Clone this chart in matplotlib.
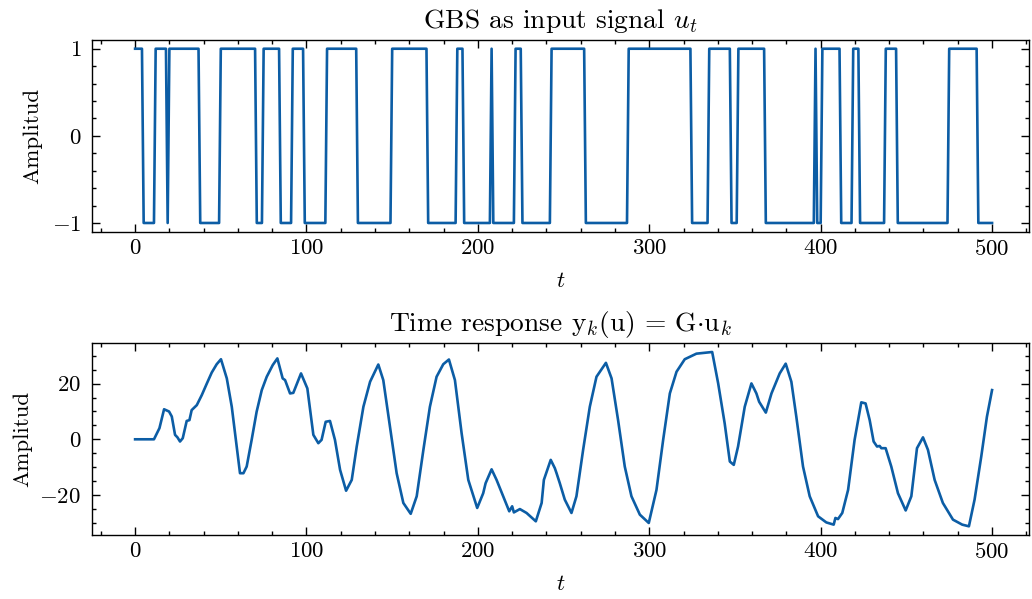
import numpy as np
import matplotlib
matplotlib.use("Agg")
import matplotlib.pyplot as plt
from matplotlib.ticker import AutoMinorLocator

plt.rcParams['font.family'] = 'cmr10'
plt.rcParams['mathtext.fontset'] = 'cm'
plt.rcParams['axes.formatter.use_mathtext'] = True
plt.rcParams['font.size'] = 16.5

# GBS input: starts at +1, sign flips at each switching instant
n_samples = 501
u_start = 1
switch_t = [5, 12, 19, 20, 38, 50, 71, 75, 85, 92, 99, 112, 130, 150, 171,
            188, 192, 208, 209, 222, 226, 243, 263, 288, 325, 335, 348, 352,
            368, 397, 398, 401, 412, 419, 423, 438, 445, 475, 492]

# system response y_k
t_resp = [0, 11, 14.2, 16.9, 19.8, 21.4, 23.3, 24.7, 26.2, 27.8, 30.1, 31.7, 33,
          36, 38.9, 41.8, 44.7, 47.6, 50.1, 53.5, 56.4, 59.3, 61.2, 63.2, 65.1,
          68, 70.9, 73.9, 76.8, 80.3, 83, 86.1, 87.5, 90.4, 92.3, 96.8, 100.5,
          104, 106.9, 108.8, 111.2, 113.7, 116.6, 119.6, 123.1, 126.4, 129.3,
          133.2, 137.1, 141.9, 144.8, 148.7, 152.6, 156.5, 160.8, 164.3, 168.2,
          172, 175.9, 179.8, 183.1, 186.6, 190.5, 194.4, 199.6, 203.1, 204.5,
          208, 210.9, 214.8, 218.3, 220, 221, 224.5, 228.4, 233.8, 237.2, 238.5,
          242.5, 244.9, 245.9, 247.8, 250.7, 254.6, 257.5, 261.4, 265.3, 269.2,
          274.7, 278, 281.8, 285.7, 289.6, 294.5, 299.7, 304.2, 308.1, 312,
          315.9, 320.7, 327.5, 336.7, 340.2, 344, 347, 349.3, 351.8, 355.7,
          359.6, 362.5, 364.1, 368, 371.3, 376.1, 379.6, 382.9, 385.8, 389.7,
          393.6, 398.5, 403.3, 407.6, 408.6, 410.1, 412.6, 416, 419.8, 423.7,
          426.2, 428.6, 430.9, 432.9, 434.4, 435.4, 437.9, 441.2, 445.1, 449.6,
          452.9, 456.2, 459.7, 462.6, 466.5, 471.3, 477.2, 482.6, 486.5, 489.8,
          493.7, 497, 500]
y_resp = [0, 0, 4, 10.8, 10, 8.2, 1.6, 0.7, -0.8, 0.4, 6.6, 6.9, 10.5,
          12.3, 15.9, 20, 24, 27, 28.8, 21.9, 11.7, -2.6, -12.2, -12.2, -9.8,
          -0.2, 9.9, 17.7, 22.5, 26.7, 29.1, 21.9, 21.3, 16.5, 16.7, 23.7, 18.3,
          1.6, -1.4, -0.2, 6.3, 6.6, -0.2, -11, -18.5, -14.6, -2.6,
          11.7, 20.7, 26.9, 21.3, 4.5, -12.2, -22.9, -26.8, -20.5, -3.8,
          11.7, 22.5, 27, 28.7, 21.3, 2.2, -14.6, -24.7, -19.4, -15.8,
          -10.8, -14.6, -20.5, -25.9, -24.1, -26.3, -25.1, -26.5, -29.5, -22.9, -14.6,
          -7.4, -10.4, -12.2, -15.8, -21.7, -26.5, -20.5, -3.8, 11.7, 22.5,
          27.5, 21.9, 6.9, -9.8, -20.5, -27.1, -30.1, -18.2, -0.2, 16.5,
          24.3, 28.8, 30.8, 31.4, 20.1, 5.7, -8, -9.2, -2.6, 11.7,
          20.1, 16.5, 13.5, 9.6, 16.5, 23.7, 27.2, 20.7, 8.1, -9.8,
          -20.5, -27.7, -29.9, -30.7, -28.3, -28.7, -26.5, -18.2, -0.2, 13.3,
          12.9, 6.9, -0.8, -2.6, -2.4, -3.2, -3.2, -9.8, -19.4, -25.6,
          -20.5, -3.2, 0.7, -3.8, -14.6, -22.9, -28.9, -30.7, -31.3, -21.7,
          -6.2, 8.1, 17.7]

t = np.arange(n_samples)
u = np.full(n_samples, u_start)
for s in switch_t:
    u[s:] = -u[s:]

color = '#0C5DA5'

fig = plt.figure(figsize=(10.32, 5.99), dpi=100)
ax1 = fig.add_axes([0.0894, 0.6132, 0.9076, 0.32])
ax2 = fig.add_axes([0.0894, 0.1068, 0.9076, 0.3201])

ax1.plot(t, u, color=color, lw=1.9)
ax1.set_title(r'GBS as input signal $u_t$', pad=9)
ax1.set_ylabel('Amplitud', labelpad=7)
ax1.set_xlabel(r'$t$', labelpad=9)
ax1.set_yticks([-1, 0, 1])

ax2.plot(t_resp, y_resp, color=color, lw=1.9)
ax2.set_title(r'Time response y$_k$(u) = G$\cdot$u$_k$', pad=9)
ax2.set_ylabel('Amplitud', labelpad=5)
ax2.set_xlabel(r'$t$', labelpad=9)
ax2.set_yticks([-20, 0, 20])

for ax in (ax1, ax2):
    ax.set_xlim(-25, 521.5)
    ax.set_xticks([0, 100, 200, 300, 400, 500])
    ax.xaxis.set_minor_locator(AutoMinorLocator())
    ax.yaxis.set_minor_locator(AutoMinorLocator())
    ax.tick_params(which='both', direction='in', top=True, right=True, width=1.0)
    ax.tick_params(which='major', length=5.5)
    ax.tick_params(which='minor', length=3)
    ax.tick_params(axis='y', pad=8)
    ax.tick_params(axis='x', pad=5)
    for sp in ax.spines.values():
        sp.set_linewidth(1.0)

fig.savefig('out.png', dpi=100)
